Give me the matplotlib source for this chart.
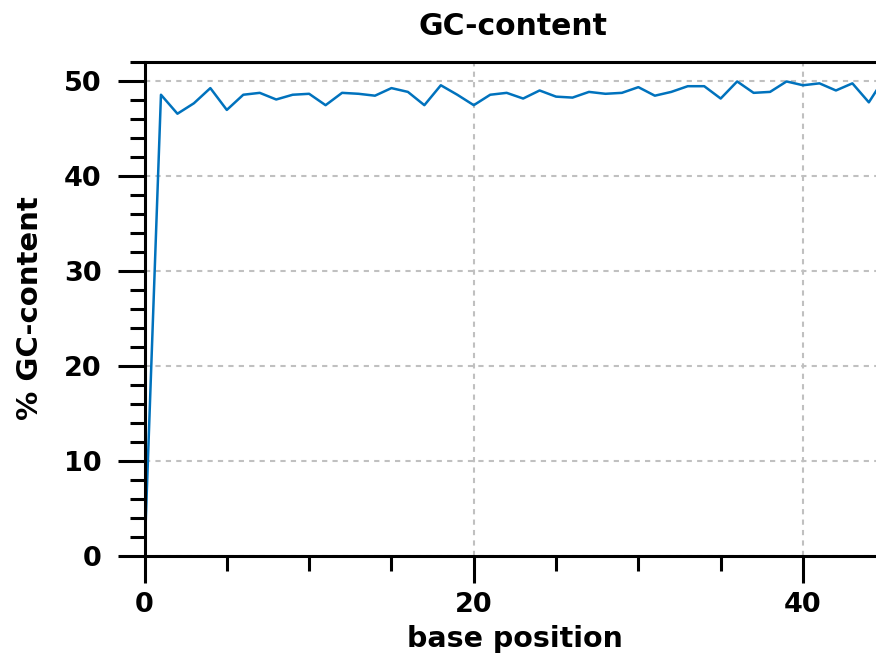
import matplotlib
matplotlib.use("Agg")
import matplotlib.pyplot as plt
from matplotlib.ticker import MultipleLocator

positions = list(range(0, 46))
gc_content = [0.0, 48.6, 46.6, 47.7, 49.3, 47.0, 48.6, 48.8, 48.1, 48.6,
              48.7, 47.5, 48.8, 48.7, 48.5, 49.3, 48.9, 47.5, 49.6, 48.6,
              47.5, 48.6, 48.8, 48.2, 49.05, 48.4, 48.3, 48.9, 48.7, 48.8,
              49.4, 48.5, 48.9, 49.5, 49.5, 48.2, 50.0, 48.8, 48.9, 50.0,
              49.6, 49.8, 49.05, 49.8, 47.8, 50.5]

title = "GC-content"
xlabel = "base position"
ylabel = "% GC-content"

plt.rcParams['font.family'] = ['DejaVu Sans']
plt.rcParams['font.weight'] = 'bold'

W, H = 876, 658
fig = plt.figure(figsize=(W / 100, H / 100), dpi=100)
left_px, right_px, top_px, bottom_px = 144.5, 882, 62, 556
aw, ah = right_px - left_px, bottom_px - top_px
ax = fig.add_axes([left_px / W, 1 - bottom_px / H, aw / W, ah / H])

ax.plot(positions, gc_content, color='#0072bd', lw=1.8, clip_on=True)

px_per_unit = (803 - 144.5) / 40
ax.set_xlim(0, aw / px_per_unit)
ax.set_ylim(0, 52.05)

ax.xaxis.set_major_locator(MultipleLocator(20))
ax.xaxis.set_minor_locator(MultipleLocator(5))
ax.yaxis.set_major_locator(MultipleLocator(10))
ax.yaxis.set_minor_locator(MultipleLocator(2))

ax.grid(True, which='major', color='#c0c0c0', linestyle=(0, (2.5, 2.5)), lw=1.5)
ax.set_axisbelow(True)

for s in ['left', 'bottom', 'top', 'right']:
    ax.spines[s].set_linewidth(2.2)

ax.tick_params(which='major', direction='out', length=19.5, width=2.2,
               labelsize=19.5)
ax.tick_params(which='minor', direction='out', length=10.5, width=2.2)
ax.tick_params(axis='y', which='major', pad=11.5)
ax.tick_params(axis='x', which='major', pad=6.5)
for lab in ax.get_xticklabels() + ax.get_yticklabels():
    lab.set_fontweight('bold')

ax.set_title(title, fontsize=21.5, fontweight='bold', pad=0,
             y=(bottom_px - 35) / ah, va='baseline')
ax.set_xlabel(xlabel, fontsize=20.5, fontweight='bold', va='baseline')
ax.xaxis.set_label_coords((515 - left_px) / aw, (bottom_px - 646.7) / ah)
ax.set_ylabel(ylabel, fontsize=21, fontweight='bold', va='baseline')
ax.yaxis.set_label_coords((38 - left_px) / aw, (bottom_px - 308) / ah)

fig.savefig("out.png", dpi=100)
